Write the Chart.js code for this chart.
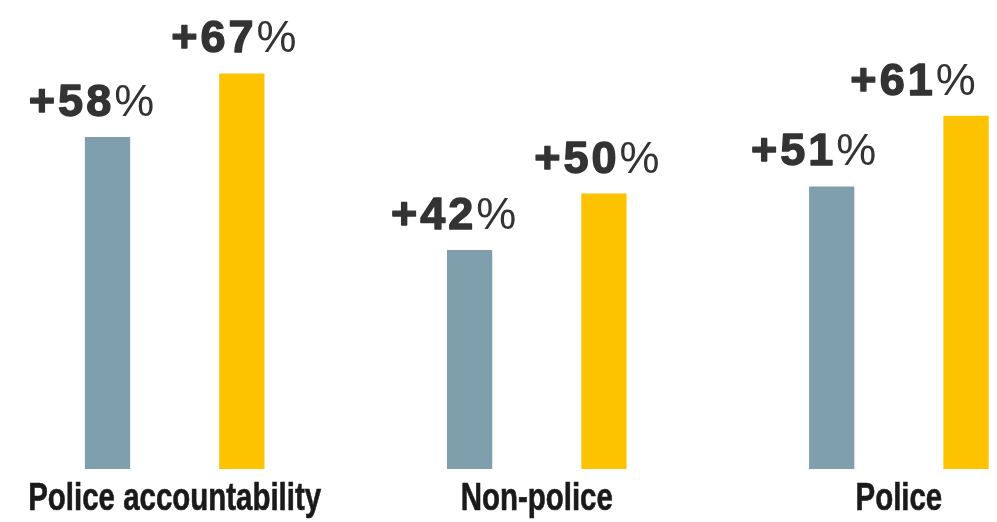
<!DOCTYPE html>
<html>
<head>
<meta charset="utf-8">
<script src="https://cdn.jsdelivr.net/npm/chart.js@4.4.1/dist/chart.umd.min.js"></script>
<style>
  html, body { margin: 0; padding: 0; background: #ffffff; }
  #wrap { width: 997px; height: 522px; position: relative; }
</style>
</head>
<body>
<div id="wrap"><canvas id="c"></canvas></div>
<script>
// ---- data ----
const categories = ["Police accountability", "Non-police", "Police"];
const seriesGrey = [58, 42, 51];
const seriesYellow = [67, 50, 61];
const valueLabelsGrey = ["+58", "+42", "+51"];
const valueLabelsYellow = ["+67", "+50", "+61"];

// ---- style ----
const GREY = "#7f9fad";
const YELLOW = "#fdc300";
const FAMILY = "'Liberation Sans', Arial, Helvetica, sans-serif";
// horizontal nudges of the value labels (px), per series then per category
const labelNudge = [[-16, -16, -18], [-8, -7, -53]];

const toPoints = arr => arr.map((v, i) => ({ x: i, y: v }));

const valueLabelPlugin = {
  id: "valueLabels",
  afterDatasetsDraw(chart) {
    const ctx = chart.ctx;
    const sets = [valueLabelsGrey, valueLabelsYellow];
    chart.data.datasets.forEach((ds, di) => {
      const meta = chart.getDatasetMeta(di);
      meta.data.forEach((bar, i) => {
        const num = sets[di][i];
        ctx.save();
        ctx.fillStyle = "#333333";
        ctx.strokeStyle = "#333333";
        ctx.lineJoin = "round";
        ctx.textBaseline = "alphabetic";
        ctx.textAlign = "left";
        ctx.letterSpacing = "3px";
        ctx.font = "bold 45px " + FAMILY;
        const w1 = ctx.measureText(num).width;
        ctx.letterSpacing = "0px";
        ctx.font = "45px " + FAMILY;
        const w2 = ctx.measureText("%").width;
        const total = w1 + w2;
        const cx = bar.x + labelNudge[di][i];
        const y = bar.y - 21;
        const x = cx - total / 2;
        ctx.letterSpacing = "3px";
        ctx.font = "bold 45px " + FAMILY;
        ctx.lineWidth = 1.4;
        ctx.fillText(num, x, y);
        ctx.strokeText(num, x, y);
        ctx.letterSpacing = "0px";
        ctx.font = "45px " + FAMILY;
        ctx.fillText("%", x + w1, y);
        ctx.restore();
      });
    });
  }
};

// category names under the groups, drawn at the x scale's positions in a condensed style
const categoryLabelPlugin = {
  id: "categoryLabels",
  afterDraw(chart) {
    const ctx = chart.ctx;
    const xs = chart.scales.x;
    categories.forEach((name, i) => {
      const px = xs.getPixelForValue(i);
      ctx.save();
      ctx.fillStyle = "#1a1a1a";
      ctx.strokeStyle = "#1a1a1a";
      ctx.lineWidth = 0.6;
      ctx.font = "bold 38px " + FAMILY;
      ctx.textAlign = "center";
      ctx.textBaseline = "alphabetic";
      ctx.translate(px, chart.chartArea.bottom + 41);
      ctx.scale(0.775, 1);
      ctx.fillText(name, 0, 0);
      ctx.strokeText(name, 0, 0);
      ctx.restore();
    });
  }
};

function draw() {
  new Chart(document.getElementById("c"), {
    type: "bar",
    data: {
      datasets: [
        { label: "Before", data: toPoints(seriesGrey), backgroundColor: GREY, borderWidth: 0 },
        { label: "After", data: toPoints(seriesYellow), backgroundColor: YELLOW, borderWidth: 0 }
      ]
    },
    options: {
      responsive: true,
      maintainAspectRatio: false,
      animation: false,
      layout: { padding: { top: 0, bottom: 53, left: 0, right: 0 } },
      categoryPercentage: 0.742,
      barPercentage: 0.337,
      plugins: {
        legend: { display: false },
        tooltip: { enabled: false }
      },
      scales: {
        x: {
          type: "linear",
          min: -0.4824,
          max: 2.271,
          offset: false,
          grid: { display: false, drawTicks: false },
          border: { display: false },
          ticks: {
            display: false,
            stepSize: 1,
            includeBounds: false,
            autoSkip: false,
            maxRotation: 0,
            minRotation: 0,
            callback: v => (Number.isInteger(v) && categories[v] !== undefined) ? categories[v] : ""
          }
        },
        y: {
          display: false,
          min: 11,
          max: 77.4
        }
      }
    },
    plugins: [valueLabelPlugin, categoryLabelPlugin]
  });
}

Promise.all([
  document.fonts.load("bold 45px 'Liberation Sans'"),
  document.fonts.load("45px 'Liberation Sans'")
]).then(draw, draw);
</script>
</body>
</html>
